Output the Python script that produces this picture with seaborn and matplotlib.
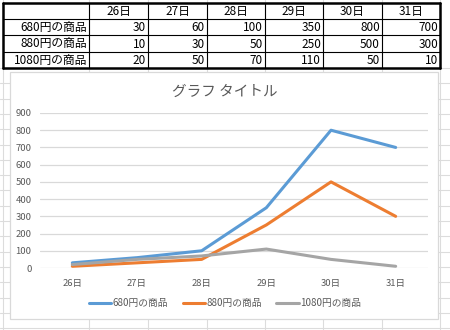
import matplotlib
matplotlib.use("Agg")
import matplotlib.pyplot as plt
import seaborn as sns
import pandas as pd
from matplotlib.patches import Rectangle
from matplotlib.lines import Line2D

days = ["26日", "27日", "28日", "29日", "30日", "31日"]
series_names = ["680円の商品", "880円の商品", "1080円の商品"]
s680 = [30, 60, 100, 350, 800, 700]
s880 = [10, 30, 50, 250, 500, 300]
s1080 = [20, 50, 70, 110, 50, 10]
values = [s680, s880, s1080]
yticks = [0, 100, 200, 300, 400, 500, 600, 700, 800, 900]
title = "グラフ タイトル"
colors = ["#5B9BD5", "#ED7D31", "#A5A5A5"]

sns.set_theme(style="white")
plt.rcParams['font.family'] = ['Noto Sans CJK JP', 'DejaVu Sans']

W, H = 450, 330
fig = plt.figure(figsize=(4.5, 3.3), dpi=100)
fig.patch.set_facecolor("white")

bg = fig.add_axes([0, 0, 1, 1])
bg.set_xlim(0, W)
bg.set_ylim(H, 0)
bg.axis("off")

col_edges = [3, 89, 148, 207, 265, 323, 382, 440]
row_edges = [3, 19, 35, 52, 68]
gridc = "#DCDCDC"
y = 68
while y < H:
    bg.plot([0, W], [y, y], color=gridc, lw=0.8, zorder=0)
    y += 15.3
for x in col_edges:
    bg.plot([x, x], [0, H], color=gridc, lw=0.8, zorder=0)

tfs = 8.5
for i, x in enumerate(col_edges):
    lw = 1.8 if i in (0, len(col_edges) - 1) else 0.8
    bg.plot([x, x], [row_edges[0], row_edges[-1]], color="black", lw=lw, zorder=2)
for j, yy in enumerate(row_edges):
    lw = 1.8 if j in (0, len(row_edges) - 1) else 0.8
    bg.plot([col_edges[0], col_edges[-1]], [yy, yy], color="black", lw=lw, zorder=2)
for c, d in enumerate(days):
    xc = (col_edges[c + 1] + col_edges[c + 2]) / 2
    bg.text(xc, (row_edges[0] + row_edges[1]) / 2 + 0.5, d, ha="center", va="center",
            fontsize=tfs, color="black", zorder=3)
for r, (name, vals) in enumerate(zip(series_names, values)):
    yc = (row_edges[r + 1] + row_edges[r + 2]) / 2 + 0.5
    bg.text(col_edges[1] - 2, yc, name, ha="right", va="center", fontsize=tfs,
            color="black", zorder=3)
    for c, v in enumerate(vals):
        bg.text(col_edges[c + 2] - 2, yc, str(v), ha="right", va="center",
                fontsize=tfs, color="black", zorder=3)

bg.add_patch(Rectangle((10, 72), 428, 247, facecolor="white", edgecolor="#D9D9D9",
                       lw=0.9, zorder=4))
bg.text(225, 92, title, ha="center", va="center", fontsize=10.5, color="#595959", zorder=5)

x0, x1 = 40, 428
y0, y1 = 268, 113
ax = fig.add_axes([x0 / W, (H - y0) / H, (x1 - x0) / W, (y0 - y1) / H])
ax.set_zorder(5)
ax.patch.set_alpha(0)

rows = []
for name, vals in zip(series_names, values):
    for d, v in zip(days, vals):
        rows.append({"day": d, "value": v, "series": name})
df = pd.DataFrame(rows)

sns.lineplot(data=df, x="day", y="value", hue="series", hue_order=series_names,
             palette=colors, linewidth=2.2, ax=ax, legend=False, sort=False)

ax.set_xlim(-0.5, len(days) - 0.5)
ax.set_ylim(0, 900)
ax.set_yticks(yticks)
ax.set_yticklabels([str(t) for t in yticks])
ax.set_xticks(range(len(days)))
ax.set_xticklabels(days)
ax.yaxis.grid(True, color="#D9D9D9", lw=0.9)
ax.set_axisbelow(True)
for s in ax.spines.values():
    s.set_visible(False)
ax.tick_params(axis="both", length=0, labelsize=6.8, colors="#595959")
ax.tick_params(axis="y", pad=6)
ax.tick_params(axis="x", pad=8)
ax.set_xlabel("")
ax.set_ylabel("")

handles = [Line2D([0], [0], color=c, lw=2.2) for c in colors]
fig.legend(handles, series_names, loc="center", bbox_to_anchor=(225 / W, (H - 303) / H),
           ncol=3, frameon=False, fontsize=7, labelcolor="#595959",
           handlelength=2.3, handletextpad=0.15, columnspacing=1.5)

fig.savefig("out.png", dpi=100, facecolor="white")
